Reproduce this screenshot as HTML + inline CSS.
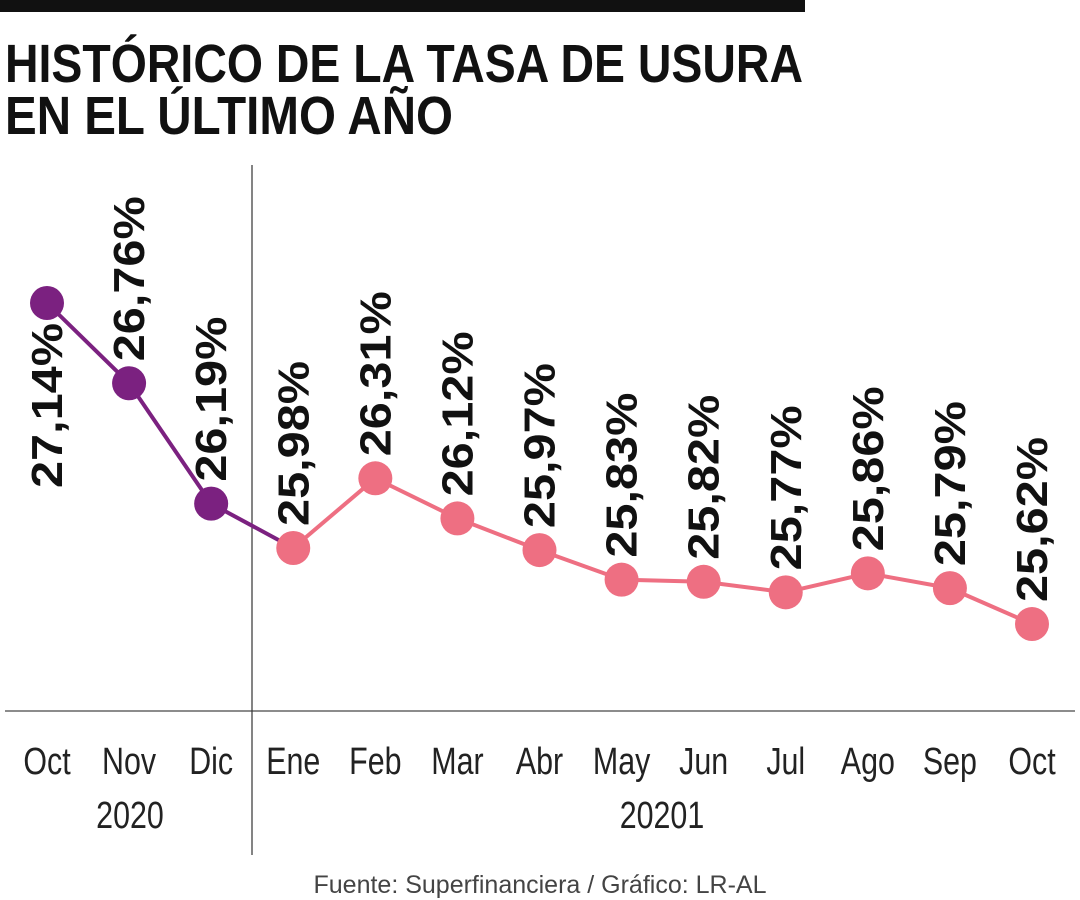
<!DOCTYPE html>
<html><head><meta charset="utf-8"><style>
html,body{margin:0;padding:0;background:#fff;width:1080px;height:900px;overflow:hidden}
svg{display:block}
</style></head><body>
<svg id="chart" width="1080" height="900" viewBox="0 0 1080 900" font-family="'Liberation Sans', sans-serif">
<rect x="0" y="0" width="805" height="12" fill="#111"/>
<text x="5" y="82" font-size="54" font-weight="bold" fill="#111" textLength="798" lengthAdjust="spacingAndGlyphs">HISTÓRICO DE LA TASA DE USURA</text>
<text x="5" y="134" font-size="54" font-weight="bold" fill="#111" textLength="448" lengthAdjust="spacingAndGlyphs">EN EL ÚLTIMO AÑO</text>
<line x1="5" y1="711" x2="1075" y2="711" stroke="#666" stroke-width="1.5"/>
<line x1="252" y1="165" x2="252" y2="855" stroke="#333" stroke-width="1.2"/>
<g id="lines"></g><g id="marks"></g><g id="labels"></g><g id="ticks"></g>
<text x="130" y="828" font-size="38" fill="#222" text-anchor="middle" transform="translate(130 0) scale(0.8 1) translate(-130 0)">2020</text>
<text x="662" y="828" font-size="38" fill="#222" text-anchor="middle" transform="translate(662 0) scale(0.8 1) translate(-662 0)">20201</text>
<text x="540" y="893" font-size="25" fill="#444" text-anchor="middle">Fuente: Superfinanciera / Gráfico: LR-AL</text>
</svg>
<script>
const months = ["Oct","Nov","Dic","Ene","Feb","Mar","Abr","May","Jun","Jul","Ago","Sep","Oct"];
const rates = [27.14,26.76,26.19,25.98,26.31,26.12,25.97,25.83,25.82,25.77,25.86,25.79,25.62];
const purpleCount = 3;
const NS="http://www.w3.org/2000/svg";
function xPos(i){return 47 + i*(1032-47)/(months.length-1);}
function yPos(v){return 303 + (27.14 - v)*211.2;}
function mk(tag,attrs,parent){const e=document.createElementNS(NS,tag);for(const k in attrs)e.setAttribute(k,attrs[k]);document.getElementById(parent).appendChild(e);return e;}
const PURPLE="#7b2180", PINK="#ee6f82";
for(let i=0;i<rates.length-1;i++){
  const l=mk("line",{x1:xPos(i),y1:yPos(rates[i]),x2:xPos(i+1),y2:yPos(rates[i+1]),stroke:i<purpleCount?PURPLE:PINK,"stroke-width":4},"lines");
  
  
}
rates.forEach((v,i)=>{
  const x=xPos(i),y=yPos(v);
  const c=mk("circle",{cx:x,cy:y,r:17,fill:i<purpleCount?PURPLE:PINK},"marks");
  
  
  const txt=v.toFixed(2).replace('.',',')+'%';
  let t;
  if(i===0){
    t=mk("text",{x:0,y:0,"font-size":44,"font-weight":"bold",fill:"#111","text-anchor":"end",textLength:165,lengthAdjust:"spacingAndGlyphs",transform:`translate(${x+15} ${y+20}) rotate(-90)`},"labels");
  } else {
    t=mk("text",{x:0,y:0,"font-size":44,"font-weight":"bold",fill:"#111","text-anchor":"start",textLength:165,lengthAdjust:"spacingAndGlyphs",transform:`translate(${x+15} ${y-22}) rotate(-90)`},"labels");
  }
  t.textContent=txt;
  
  
  const m=mk("text",{x:0,y:0,"font-size":38,fill:"#222","text-anchor":"middle",transform:`translate(${x} 774) scale(0.8 1)`},"ticks");
  m.textContent=months[i];
  
  
});
</script>
</body></html>
